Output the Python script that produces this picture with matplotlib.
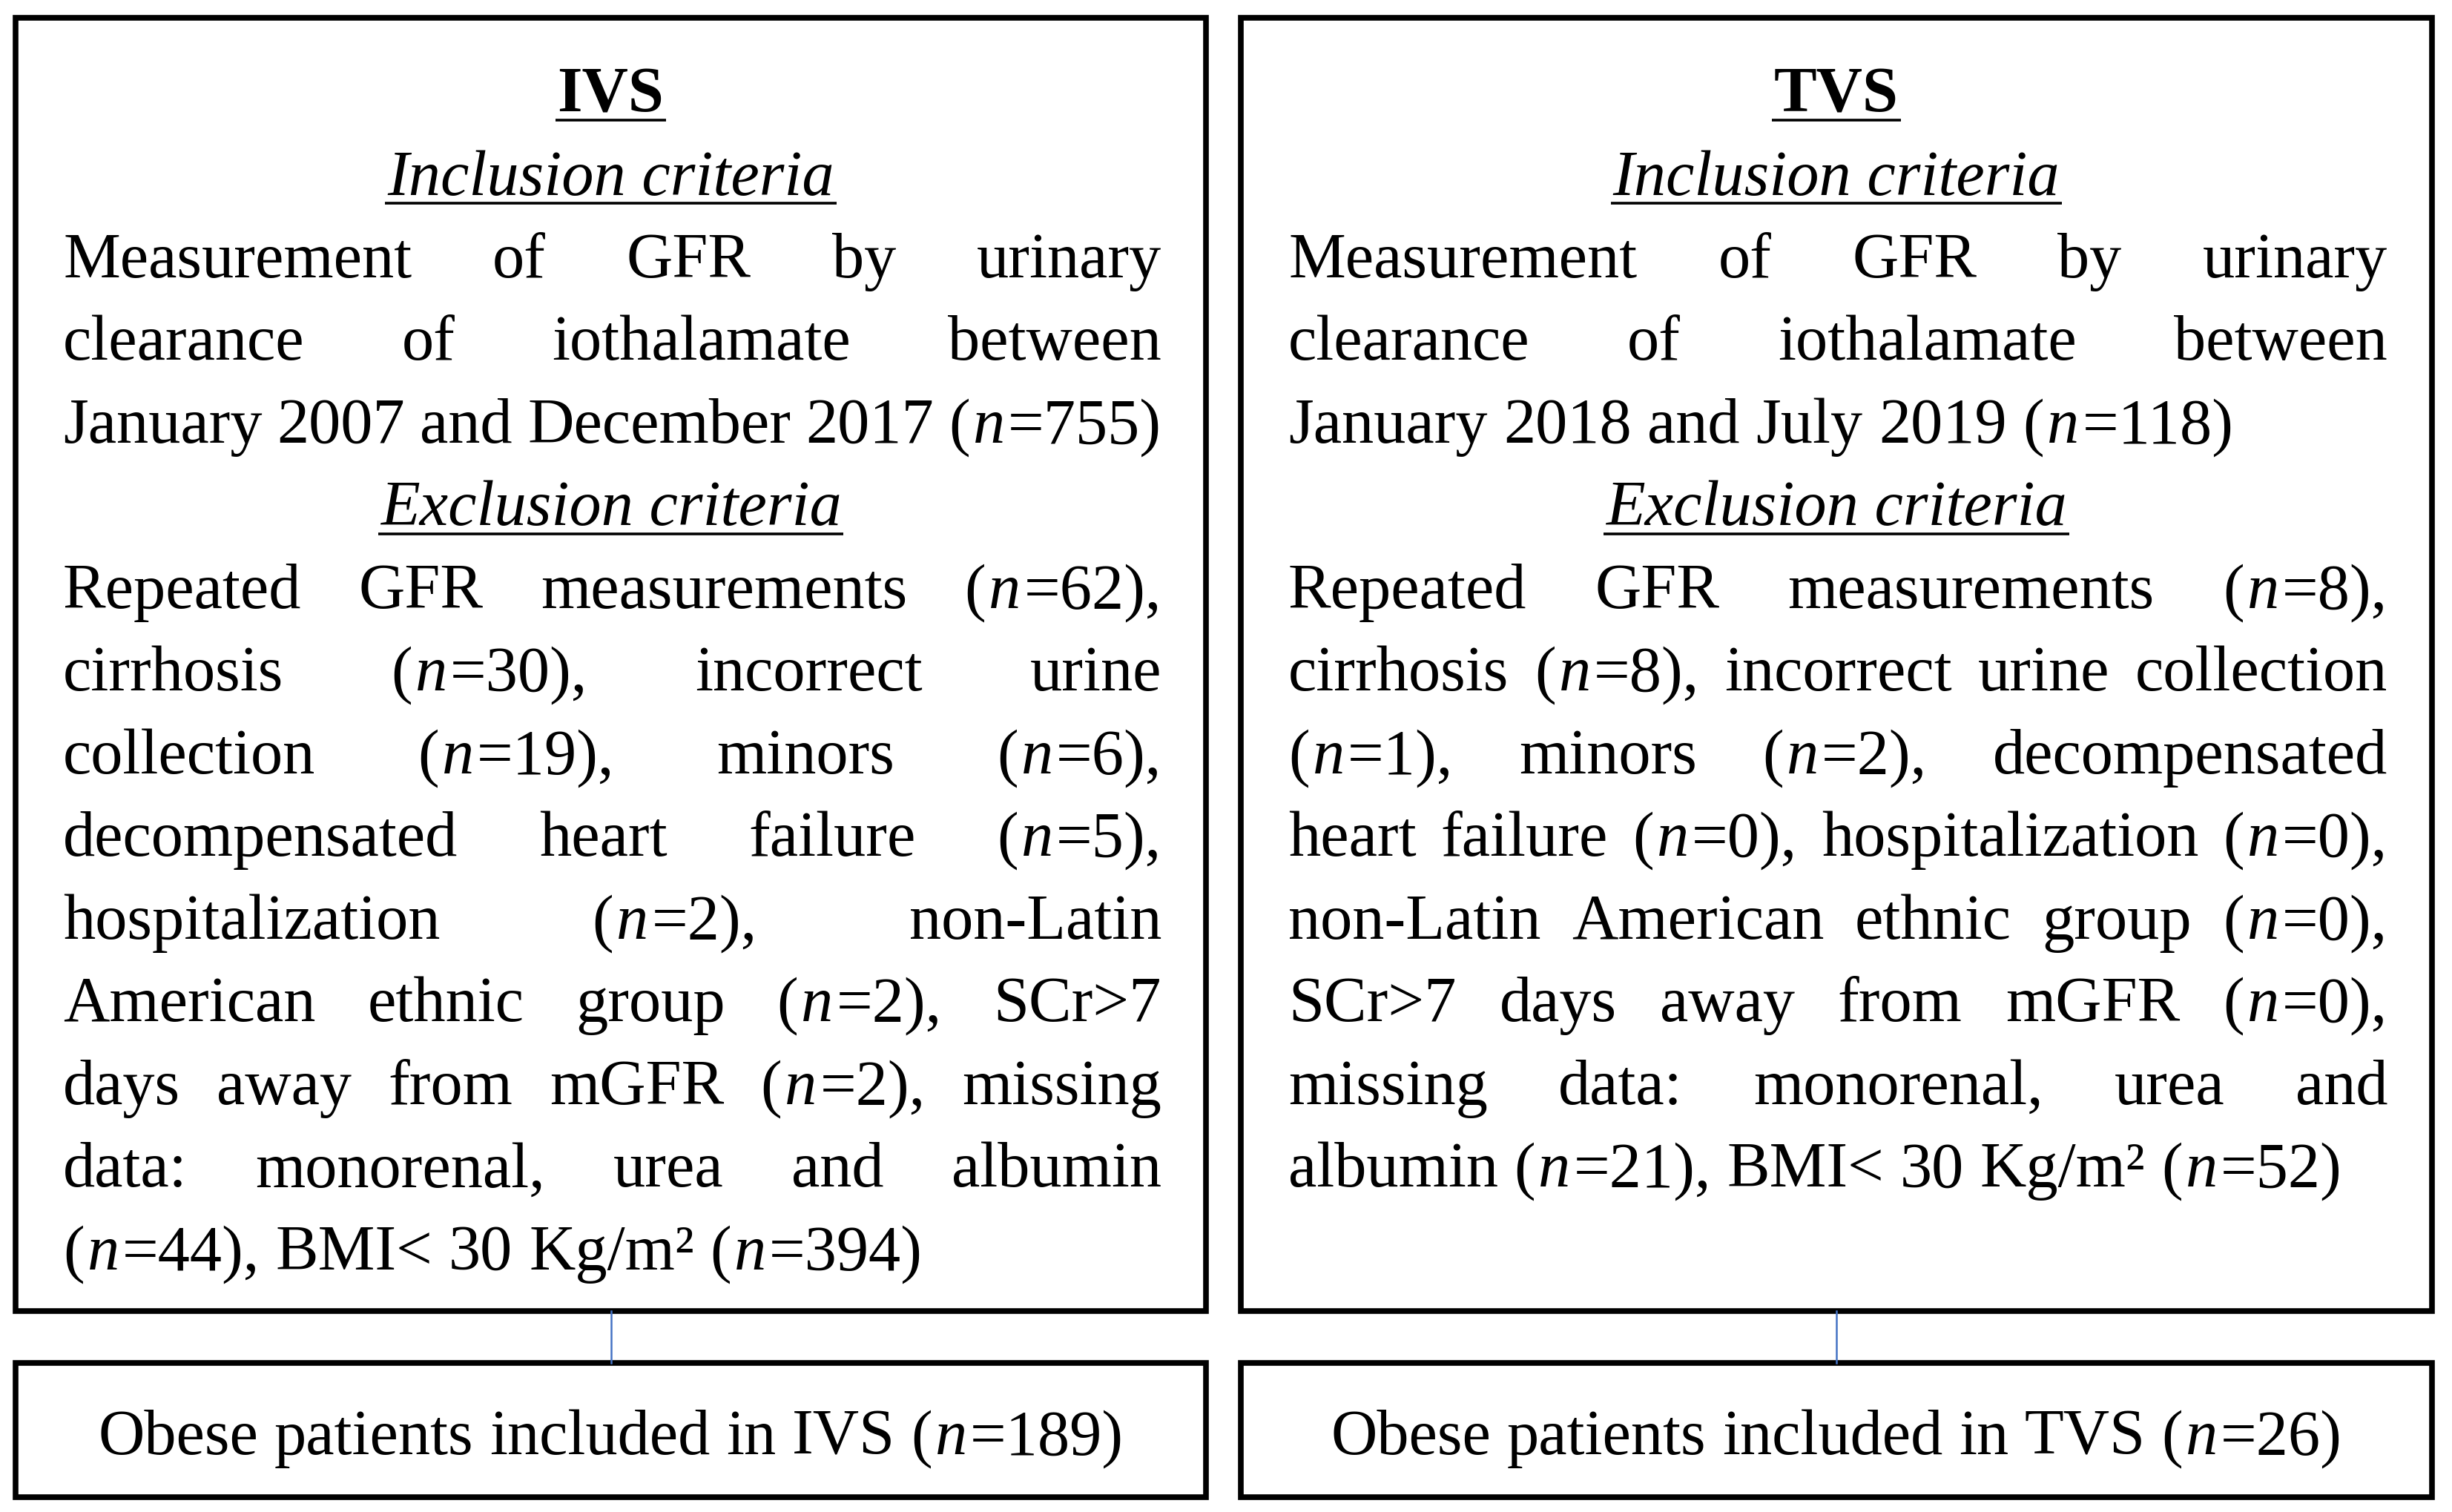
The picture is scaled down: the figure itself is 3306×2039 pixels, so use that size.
import matplotlib.pyplot as plt
from matplotlib.patches import Rectangle

# counts shown in the flowchart
ivs_screened = 755
ivs_excluded = [62, 30, 19, 6, 5, 2, 2, 2, 44, 394]
ivs_included = 189
tvs_screened = 118
tvs_excluded = [8, 8, 1, 2, 0, 0, 0, 0, 21, 52]
tvs_included = 26

# box text, line by line as in the figure; *n* = italic, {} = next count
ivs_incl = ["Measurement of GFR by urinary",
            "clearance of iothalamate between",
            "January 2007 and December 2017 (*n*={})"]
ivs_excl = ["Repeated GFR measurements (*n*={}),",
            "cirrhosis (*n*={}), incorrect urine",
            "collection (*n*={}), minors (*n*={}),",
            "decompensated heart failure (*n*={}),",
            "hospitalization (*n*={}), non-Latin",
            "American ethnic group (*n*={}), SCr>7",
            "days away from mGFR (*n*={}), missing",
            "data: monorenal, urea and albumin",
            "(*n*={}), BMI< 30 Kg/m² (*n*={})"]
tvs_incl = ["Measurement of GFR by urinary",
            "clearance of iothalamate between",
            "January 2018 and July 2019 (*n*={})"]
tvs_excl = ["Repeated GFR measurements (*n*={}),",
            "cirrhosis (*n*={}), incorrect urine collection",
            "(*n*={}), minors (*n*={}), decompensated",
            "heart failure (*n*={}), hospitalization (*n*={}),",
            "non-Latin American ethnic group (*n*={}),",
            "SCr>7 days away from mGFR (*n*={}),",
            "missing data: monorenal, urea and",
            "albumin (*n*={}), BMI< 30 Kg/m² (*n*={})"]
result_text = "Obese patients included in {} (*n*={})"


def fill(lines, counts):
    counts = iter(counts)
    return [l.format(*[next(counts) for _ in range(l.count('{}'))]) for l in lines]


W, H = 3306, 2040
fig = plt.figure(figsize=(W / 100, H / 100), dpi=100)
ax = fig.add_axes([0, 0, 1, 1])
ax.set_xlim(0, W)
ax.set_ylim(H, 0)
ax.axis('off')
rend = fig.canvas.get_renderer()

FONT = ['Liberation Serif', 'DejaVu Serif']
fs = 60


def width(s, italic=False, weight='normal'):
    t = ax.text(0, 0, s, fontsize=fs, family=FONT,
                style='italic' if italic else 'normal', weight=weight)
    w = t.get_window_extent(rend).width
    t.remove()
    return w


def runs(word):
    return [(p, i % 2 == 1) for i, p in enumerate(word.split('*')) if p]


def kern():
    return 0.045 * fs * 100 / 72


def word_width(wd):
    return sum(width(p, it) for p, it in wd) + kern() * (len(wd) - 1)


def space_width():
    return width('n n') - width('nn')


def natural_width(text):
    words = [runs(w) for w in text.split(' ')]
    return sum(word_width(wd) for wd in words) + space_width() * (len(words) - 1)


def draw_line(text, x0, x1, y, justify=False, center=None):
    words = [runs(w) for w in text.split(' ')]
    ws = [word_width(wd) for wd in words]
    gap = space_width()
    if len(words) > 1:
        fit = (x1 - x0 - sum(ws)) / (len(words) - 1)
        if justify or fit < gap:
            gap = fit
    if center is not None:
        x0 = center - (sum(ws) + gap * (len(words) - 1)) / 2
    x = x0
    for wd, w in zip(words, ws):
        xx = x
        for p, it in wd:
            ax.text(xx, y, p, fontsize=fs, family=FONT, va='baseline', ha='left',
                    style='italic' if it else 'normal', color='black')
            xx += width(p, it) + kern()
        x += w + gap


def heading(text, cx, y, italic=False, weight='normal'):
    ax.text(cx, y, text, fontsize=fs, family=FONT, va='baseline', ha='center',
            style='italic' if italic else 'normal', weight=weight, color='black')
    w = width(text, italic, weight)
    ax.plot([cx - w / 2 - 3, cx + w / 2 + 3], [y + 12, y + 12], color='black',
            lw=2.6, solid_capstyle='butt')


ivs_i, ivs_e = fill(ivs_incl, [ivs_screened]), fill(ivs_excl, ivs_excluded)
tvs_i, tvs_e = fill(tvs_incl, [tvs_screened]), fill(tvs_excl, tvs_excluded)

# font size chosen so the unjustified lines together span about what they do in the figure
free_lines = [ivs_i[-1], ivs_e[-1], tvs_i[-1], tvs_e[-1],
              result_text.format('IVS', ivs_included), result_text.format('TVS', tvs_included)]
fs = fs * 8092 / sum(natural_width(l) for l in free_lines)

top, bottom = 25, 1769
btop, bbottom = 1839, 2020
y0, step = 151, 111.5

panels = [
    ('IVS', 21, 1626, ivs_i, ivs_e, ivs_included),
    ('TVS', 1673, 3279, tvs_i, tvs_e, tvs_included),
]

for name, bl, br, incl, excl, n_in in panels:
    cx = (bl + br) / 2
    ax.add_patch(Rectangle((bl, top), br - bl, bottom - top, fill=False,
                           edgecolor='black', lw=5.5, joinstyle='miter'))
    ax.add_patch(Rectangle((bl, btop), br - bl, bbottom - btop, fill=False,
                           edgecolor='black', lw=5.5, joinstyle='miter'))
    ax.plot([cx, cx], [bottom, btop], color='#4472C4', lw=1.8)

    x0, x1 = bl + 64, br - 60
    heading(name, cx, y0, weight='bold')
    heading('Inclusion criteria', cx, y0 + step, italic=True)
    row = 2
    for i, line in enumerate(incl):
        draw_line(line, x0, x1, y0 + step * row, justify=i < len(incl) - 1)
        row += 1
    heading('Exclusion criteria', cx, y0 + step * row, italic=True)
    row += 1
    for i, line in enumerate(excl):
        draw_line(line, x0, x1, y0 + step * row, justify=i < len(excl) - 1)
        row += 1

    draw_line(result_text.format(name, n_in), x0, x1, 1961, center=cx)

fig.savefig('out.png', dpi=100)
